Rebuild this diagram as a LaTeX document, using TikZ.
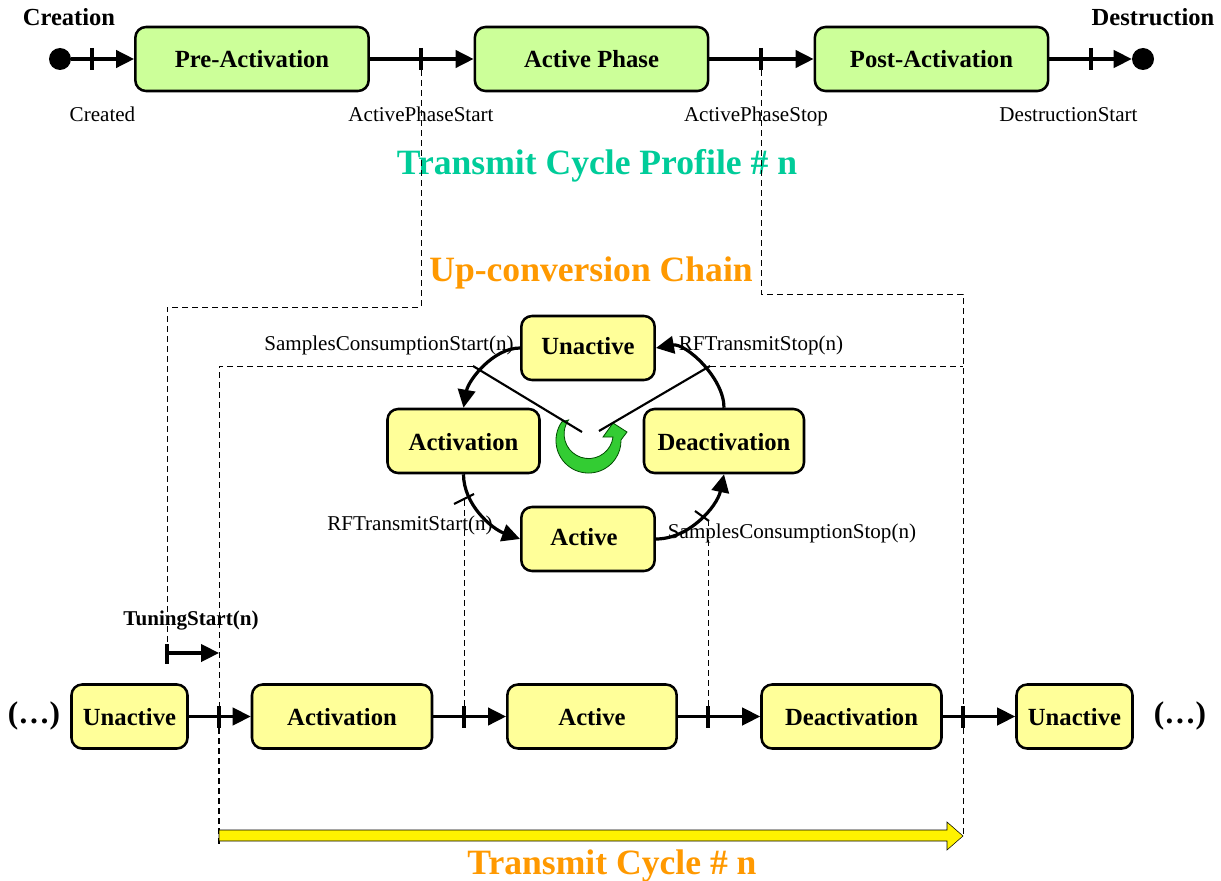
\documentclass[tikz,border=0pt]{standalone}
\usepackage{fontspec}
\setmainfont{Liberation Serif}
\usetikzlibrary{arrows.meta}
\definecolor{boxgreen}{HTML}{CCFF99}
\definecolor{boxyellow}{HTML}{FFFF99}
\definecolor{titleteal}{HTML}{00CC99}
\definecolor{titleorange}{HTML}{FF9900}
\definecolor{ringgreen}{HTML}{33CC33}
\tikzset{
  statebox/.style={draw=black,line width=1.9pt,rounded corners=8pt,inner sep=0pt,text height=15pt,text depth=1.5pt,font=\fontsize{18.5}{20}\selectfont\bfseries},
  gbox/.style={statebox,fill=boxgreen,minimum height=48pt},
  ybox/.style={statebox,fill=boxyellow,minimum height=48pt},
  flow/.style={line width=2.4pt,-{Triangle[length=13.5pt,width=13pt]}},
  tickmark/.style={line width=2.6pt},
  thintick/.style={line width=1.6pt},
  guide/.style={line width=0.7pt,dash pattern=on 4.5pt off 3pt},
  lab/.style={font=\fontsize{15.8}{17}\selectfont,inner sep=0pt,text height=11.5pt,text depth=1.5pt},
  blab/.style={font=\fontsize{18.4}{20}\selectfont\bfseries,inner sep=0pt,text height=13.5pt,text depth=1.5pt},
  dotslab/.style={font=\fontsize{23.5}{25}\selectfont\bfseries,inner sep=0pt,text height=13.5pt,text depth=1.5pt},
  tuninglab/.style={font=\fontsize{15.8}{17}\selectfont\bfseries,inner sep=0pt,text height=11.5pt,text depth=1.5pt},
  bigteal/.style={font=\fontsize{26.7}{28}\selectfont\bfseries,text=titleteal,inner sep=0pt,text height=22pt,text depth=4pt},
  bigorange/.style={font=\fontsize{26.7}{28}\selectfont\bfseries,text=titleorange,inner sep=0pt,text height=22pt,text depth=4pt},
  endpoint/.style={circle,fill=black,inner sep=0pt,minimum size=16.5pt},
}
\begin{document}
\begin{tikzpicture}[x=0.75pt,y=-0.75pt]
\useasboundingbox (0,0) rectangle (1221,881);
% labels
\node[blab] (lcreation) at (69,18) {Creation};
\node[blab] (ldestruction) at (1153,18) {Destruction};
\node[lab] (lcreated) at (102.5,115) {Created};
\node[lab] (lstart) at (421,115) {ActivePhaseStart};
\node[lab] (lstop) at (756,115) {ActivePhaseStop};
\node[lab] (ldest) at (1068.5,115) {DestructionStart};
\node[bigteal] (tprofile) at (597,162) {Transmit Cycle Profile \# n};
\node[bigorange] (tchain) at (591,269) {Up-conversion Chain};
\node[bigorange] (tcycle) at (612,862) {Transmit Cycle \# n};
\node[lab] (lscstart) at (389,344) {SamplesConsumptionStart(n)};
\node[lab] (lrfstop) at (761,344) {RFTransmitStop(n)};
\node[lab] (lrfstart) at (410,524) {RFTransmitStart(n)};
\node[lab] (lscstop) at (792,532) {SamplesConsumptionStop(n)};
\node[tuninglab] (ltuning) at (191,619) {TuningStart(n)};
\node[dotslab] (dotsl) at (34,715) {(…)};
\node[dotslab] (dotsr) at (1180,715) {(…)};
% top row
\node[endpoint] (startdot) at (60,59) {};
\node[gbox,minimum width=175pt] (pre) at (252,59) {Pre-Activation};
\node[gbox,minimum width=175pt] (act) at (591.5,59) {Active Phase};
\node[gbox,minimum width=175pt] (post) at (931.5,59) {Post-Activation};
\node[endpoint] (enddot) at (1143,59) {};
% chain
\node[ybox,minimum width=100pt] (cun) at (588,348) {\raisebox{2pt}{Unactive}};
\node[ybox,minimum width=114pt] (cactn) at (463.5,441) {Activation};
\node[ybox,minimum width=120pt] (cdeact) at (724,441) {Deactivation};
\node[ybox,minimum width=100pt] (cact) at (588,539) {\raisebox{2pt}{Active}\kern 6pt};
% bottom row
\node[ybox,minimum width=87pt] (bun1) at (129.5,716.5) {Unactive};
\node[ybox,minimum width=135pt] (bactn) at (342,716.5) {Activation};
\node[ybox,minimum width=127pt] (bact) at (592,716.5) {Active};
\node[ybox,minimum width=135pt] (bdeact) at (851.5,716.5) {Deactivation};
\node[ybox,minimum width=87pt] (bun2) at (1074.5,716.5) {Unactive};
% top-row connectors and ticks
\draw[flow] (startdot) -- (pre);
\draw[flow] (pre) -- (act);
\draw[flow] (act) -- (post);
\draw[flow] (post) -- (enddot);
\foreach \n/\x in {t1/92,t2/421,t3/761,t4/1091}{
  \coordinate (\n u) at (\x,48); \coordinate (\n d) at (\x,70);
  \draw[tickmark] (\n u) -- (\n d);
}
% bottom-row connectors and ticks
\draw[flow] (bun1) -- (bactn);
\draw[flow] (bactn) -- (bact);
\draw[flow] (bact) -- (bdeact);
\draw[flow] (bdeact) -- (bun2);
\foreach \n/\x in {b1/219,b2/464,b3/708,b4/963}{
  \coordinate (\n u) at (\x,706); \coordinate (\n d) at (\x,728);
  \draw[tickmark] (\n u) -- (\n d);
}
% transition bar end points
\coordinate (a1) at (473,366); \coordinate (a2) at (582,432);
\coordinate (a3) at (710,366); \coordinate (a4) at (599,431);
\coordinate (a5) at (454,504); \coordinate (a6) at (474,494);
\coordinate (a7) at (695,511); \coordinate (a8) at (709,521);
% dashed guides
\coordinate (g1) at (421,307); \coordinate (g2) at (167,307); \coordinate (g3) at (167,644);
\draw[guide] (t2d) -- (g1) -- (g2) -- (g3);
\coordinate (g4) at (761,294); \coordinate (g5) at (963,294); \coordinate (g6) at (963,836);
\draw[guide] (t3d) -- (g4) -- (g5) -- (g6);
\coordinate (g7) at (963,366); \coordinate (g8) at (219,366); \coordinate (g9) at (219,844);
\draw[guide] (a1) -- (g8) -- (b1u);
\draw[guide] (a3) -- (g7);
\draw[guide,line width=1.2pt] (b1d) -- (g9);
\coordinate (g10) at (464,500); \coordinate (g11) at (708,520);
\draw[guide] (g10) -- (b2u);
\draw[guide] (g11) -- (b3u);
% tuning arrow
\coordinate (tu1) at (167,644); \coordinate (tu2) at (167,664);
\coordinate (tu3) at (167,653); \coordinate (tu4) at (219,653);
\draw[tickmark] (tu1) -- (tu2);
\draw[flow] (tu3) -- (tu4);
% chain arrows
\draw[flow] (cun.west) to[out=180,in=80,looseness=0.85] (cactn.north);
\draw[flow] (cdeact.north) to[out=90,in=10,looseness=0.85] (cun.east);
\draw[flow] (cactn.south) to[out=-90,in=160,looseness=0.9] (cact.west);
\draw[flow] (cact.east) to[out=0,in=-102,looseness=0.9] (cdeact.south);
% cycle ring
\coordinate (rc) at (588.5,440.5);
\draw[fill=ringgreen,draw=black!70!green,line width=0.6pt]
  (rc) ++(145:24.4pt) arc[start angle=145,end angle=361,radius=24.4pt]
  -- (627,432) -- (613,423) -- (603,437) -- (613,437)
  arc[start angle=-7,end angle=-215,radius=18.4pt] -- cycle;
% transition bars
\draw[thintick] (a1) -- (a2);
\draw[thintick] (a3) -- (a4);
\draw[thintick] (a5) -- (a6);
\draw[thintick] (a7) -- (a8);
% yellow span arrow
\coordinate (sp) at (219,830);
\draw[fill=yellow,draw=black,line width=0.4pt]
  (sp) -- (947,830) -- (947,822) -- (963,836) -- (947,850) -- (947,841) -- (219,841) -- cycle;
\end{tikzpicture}
\end{document}
